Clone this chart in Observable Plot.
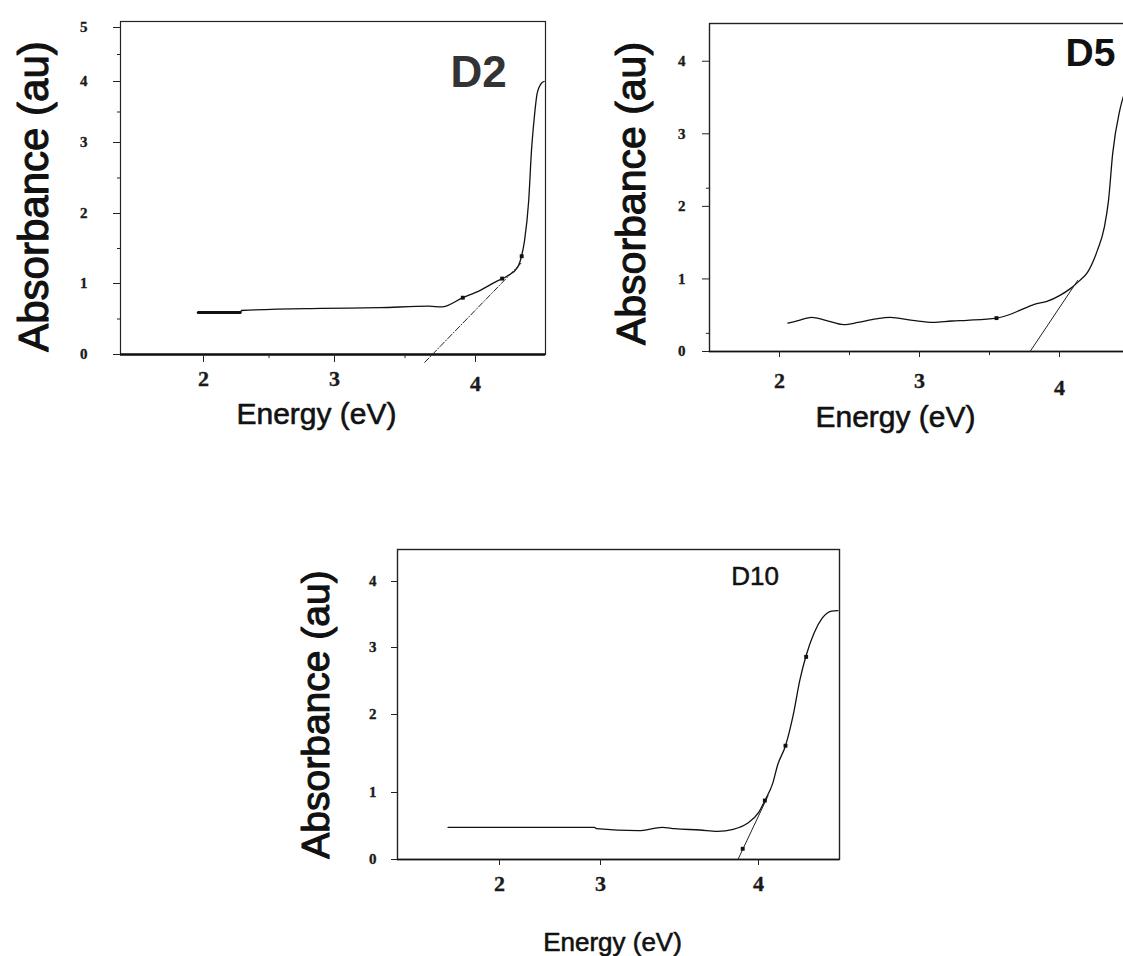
<!DOCTYPE html>
<html>
<head>
<meta charset="utf-8">
<script src="https://cdn.jsdelivr.net/npm/d3@7"></script>
<script src="https://cdn.jsdelivr.net/npm/@observablehq/plot@0.6"></script>
<style>
html, body { margin: 0; padding: 0; background: #fff; width: 1123px; height: 956px; overflow: hidden; }
#page { position: relative; width: 1123px; height: 956px; overflow: hidden; }
.panel { position: absolute; }
</style>
</head>
<body>
<div id="page"></div>
<script>
// ---------- D2 ----------
const d2Energy = [1.96, 2.28, 2.29, 2.90, 3.32, 3.67, 3.76, 3.91, 4.03, 4.14, 4.23, 4.30, 4.33, 4.35, 4.38, 4.40, 4.42, 4.44, 4.47, 4.49];
const d2Abs    = [0.59, 0.59, 0.62, 0.65, 0.66, 0.68, 0.67, 0.80, 0.90, 1.02, 1.11, 1.23, 1.40, 1.61, 2.18, 2.89, 3.41, 3.80, 3.97, 4.00];
const d2TangentE = [3.64, 4.33];
const d2TangentA = [-0.11, 1.30];
const d2MarkE = [3.91, 4.19, 4.33];
const d2MarkA = [0.80, 1.07, 1.39];
const d2XTicks = [2, 3, 4];
const d2XMinor = [2.5, 3.5];
const d2YTicks = [0, 1, 2, 3, 4, 5];
const d2YMinor = [0.5, 1.5, 2.5, 3.5, 4.5];

// ---------- D5 ----------
const d5Energy = [2.06, 2.14, 2.23, 2.33, 2.46, 2.56, 2.69, 2.79, 2.95, 3.10, 3.23, 3.34, 3.55, 3.66, 3.72, 3.82, 3.91, 4.00, 4.08, 4.14, 4.20, 4.27, 4.32, 4.35, 4.38, 4.43, 4.47];
const d5Abs    = [0.39, 0.43, 0.47, 0.43, 0.37, 0.40, 0.45, 0.47, 0.43, 0.40, 0.42, 0.43, 0.46, 0.52, 0.57, 0.65, 0.69, 0.77, 0.87, 0.97, 1.09, 1.39, 1.71, 2.08, 2.73, 3.32, 3.60];
const d5TangentE = [3.79, 4.13];
const d5TangentA = [0.00, 0.98];
const d5MarkE = [3.55];
const d5MarkA = [0.46];
const d5XTicks = [2, 3, 4];
const d5XMinor = [2.5, 3.5];
const d5YTicks = [0, 1, 2, 3, 4];
const d5YMinor = [0.25, 2.25];

// ---------- D10 ----------
const d10Energy = [1.49, 2.94, 2.96, 3.24, 3.39, 3.47, 3.63, 3.74, 3.84, 3.93, 4.00, 4.04, 4.09, 4.12, 4.17, 4.22, 4.26, 4.30, 4.35, 4.40, 4.46, 4.50];
const d10Abs    = [0.48, 0.48, 0.46, 0.43, 0.48, 0.46, 0.44, 0.42, 0.45, 0.54, 0.70, 0.88, 1.12, 1.35, 1.60, 2.01, 2.51, 2.88, 3.22, 3.44, 3.55, 3.56];
const d10TangentE = [3.87, 4.06];
const d10TangentA = [0.00, 0.95];
const d10MarkE = [3.90, 4.04, 4.17, 4.30];
const d10MarkA = [0.16, 0.88, 1.60, 2.86];
const d10XTicks = [2, 3, 4];
const d10XMinor = [];
const d10YTicks = [0, 1, 2, 3, 4];
const d10YMinor = [];

const sans = "'Liberation Sans', Arial, Helvetica, sans-serif";
const serif = "'Liberation Serif', 'Times New Roman', serif";

function buildPanel(cfg) {
  const curve = cfg.energy.map((e, i) => ({e, a: cfg.abs[i]}));
  const thick = curve.filter(d => d.e <= (cfg.thickUntil ?? -1));
  const tangent = cfg.tanE.map((e, i) => ({e, a: cfg.tanA[i]}));
  const pts = cfg.markE.map((e, i) => ({e, a: cfg.markA[i]}));
  const lastX = cfg.xTicks[cfg.xTicks.length - 1];
  const tickText = {fontFamily: serif, fontWeight: "bold", fill: "#1a1a1a", stroke: "#1a1a1a", strokeWidth: 0.35};
  const marks = [
    Plot.frame({stroke: "#222", strokeWidth: cfg.frameWidth}),
    Plot.ruleY([0], {stroke: "#111", strokeWidth: cfg.baseWidth}),
    // tick marks
    Plot.axisX({ticks: cfg.xTicks, tickSize: cfg.xTickSize, tickFormat: () => "", label: null, stroke: "#222"}),
    Plot.axisY({ticks: cfg.yTicks, tickSize: cfg.yTickSize, tickFormat: () => "", label: null, stroke: "#222"}),
    // tick labels (the last x label sits a little lower in the original)
    Plot.text(cfg.xTicks.filter(d => d !== lastX), {x: d => d, text: d => String(d), frameAnchor: "bottom", textAnchor: "middle", lineAnchor: "middle", dy: cfg.xLabelOffset, fontSize: cfg.xFont, ...tickText}),
    Plot.text([lastX], {x: d => d, text: d => String(d), frameAnchor: "bottom", textAnchor: "middle", lineAnchor: "middle", dy: cfg.xLabelOffset + cfg.lastDrop, fontSize: cfg.xFont, ...tickText}),
    Plot.text(cfg.yTicks, {y: d => d, text: d => String(d), frameAnchor: "left", textAnchor: "end", lineAnchor: "middle", dx: cfg.yLabelOffset, fontSize: cfg.yFont, ...tickText}),
    Plot.line(curve, {x: "e", y: "a", curve: "monotone-x", stroke: "#111", strokeWidth: 1.3}),
    Plot.line(tangent, {x: "e", y: "a", stroke: "#222", strokeWidth: 1, strokeDasharray: cfg.tanDash}),
    Plot.dot(pts, {x: "e", y: "a", symbol: "square", r: 2.2, fill: "#111"}),
    Plot.text([cfg.yLabel], {text: d => d, frameAnchor: "left", textAnchor: "middle", lineAnchor: "middle", rotate: -90, dx: cfg.yLabelDx, dy: cfg.yLabelDy, fontSize: cfg.yLabelSize, fontFamily: sans, fontWeight: "normal", fill: "#111", stroke: "#111", strokeWidth: 1.1}),
    Plot.text([cfg.xLabel], {text: d => d, frameAnchor: "bottom", textAnchor: "middle", lineAnchor: "middle", dx: cfg.xLabelDx, dy: cfg.xLabelDy, fontSize: cfg.xLabelSize, fontFamily: sans, fontWeight: "normal", fill: "#111", stroke: "#111", strokeWidth: 0.6}),
    Plot.text([cfg.name], {text: d => d, frameAnchor: "top-left", textAnchor: "middle", lineAnchor: "middle", dx: cfg.nameDx, dy: cfg.nameDy, fontSize: cfg.nameSize, fontFamily: sans, fontWeight: cfg.nameWeight, fill: cfg.nameColor, stroke: cfg.nameColor, strokeWidth: cfg.nameStroke})
  ];
  if (thick.length > 1) marks.push(Plot.line(thick, {x: "e", y: "a", stroke: "#111", strokeWidth: 3}));
  if (cfg.xMinor.length) marks.push(Plot.axisX({ticks: cfg.xMinor, tickSize: 4, tickFormat: () => "", label: null, stroke: "#222"}));
  if (cfg.yMinor.length) marks.push(Plot.axisY({ticks: cfg.yMinor, tickSize: 3, tickFormat: () => "", label: null, stroke: "#222"}));

  const chart = Plot.plot({
    width: cfg.width,
    height: cfg.height,
    marginLeft: cfg.ml, marginRight: cfg.mr, marginTop: cfg.mt, marginBottom: cfg.mb,
    x: {type: "linear", domain: cfg.xDomain, range: cfg.xRange, label: null},
    y: {type: "linear", domain: cfg.yDomain, range: cfg.yRange, label: null},
    style: {fontFamily: serif, color: "#222", background: "transparent", overflow: "visible", maxWidth: "none"},
    marks
  });
  const div = document.createElement("div");
  div.className = "panel";
  div.style.left = cfg.left + "px";
  div.style.top = cfg.top + "px";
  div.appendChild(chart);
  document.getElementById("page").appendChild(div);
}

// D2: svg at page (0,0)
buildPanel({
  name: "D2", left: 0, top: 0, width: 560, height: 450, ml: 120, mr: 15, mt: 21, mb: 96,
  xDomain: [1.366, 2, 3, 4, 4.5], xRange: [120, 203, 334, 475, 545],
  yDomain: [0, 1, 2, 3, 4, 5, 5.11], yRange: [354, 283, 213, 142, 81, 27, 21],
  energy: d2Energy, abs: d2Abs, thickUntil: 2.28, tanE: d2TangentE, tanA: d2TangentA, tanDash: "6,2,1,2",
  markE: d2MarkE, markA: d2MarkA,
  xTicks: d2XTicks, xMinor: d2XMinor, yTicks: d2YTicks, yMinor: d2YMinor,
  xTickSize: 8, xLabelOffset: 24, lastDrop: 5, xFont: 22, yTickSize: 7, yLabelOffset: -33, yFont: 15,
  frameWidth: 1.2, baseWidth: 2.6,
  yLabel: "Absorbance (au)", yLabelDx: -86, yLabelDy: 8.5, yLabelSize: 42,
  xLabel: "Energy (eV)", xLabelDx: -16.5, xLabelDy: 60, xLabelSize: 30,
  nameDx: 358, nameDy: 51, nameSize: 44, nameWeight: "bold", nameColor: "#333", nameStroke: 0
});

// D5: svg at page (560,0)
buildPanel({
  name: "D5", left: 560, top: 0, width: 580, height: 460, ml: 149, mr: 11, mt: 23, mb: 109,
  xDomain: [1.5, 4.5], xRange: [149, 569],
  yDomain: [0, 4.52], yRange: [351, 23],
  energy: d5Energy, abs: d5Abs, tanE: d5TangentE, tanA: d5TangentA, tanDash: null,
  markE: d5MarkE, markA: d5MarkA,
  xTicks: d5XTicks, xMinor: d5XMinor, yTicks: d5YTicks, yMinor: d5YMinor,
  xTickSize: 6, xLabelOffset: 29, lastDrop: 7, xFont: 22, yTickSize: 7, yLabelOffset: -24, yFont: 15,
  frameWidth: 1.4, baseWidth: 1.6,
  yLabel: "Absorbance (au)", yLabelDx: -78, yLabelDy: 6, yLabelSize: 41,
  xLabel: "Energy (eV)", xLabelDx: -24, xLabelDy: 66, xLabelSize: 30,
  nameDx: 381, nameDy: 30, nameSize: 39, nameWeight: "bold", nameColor: "#111", nameStroke: 0
});

// D10: svg at page (290,500)
buildPanel({
  name: "D10", left: 290, top: 500, width: 570, height: 456, ml: 107, mr: 21, mt: 49, mb: 97,
  xDomain: [0.99, 2, 3, 4, 4.51], xRange: [107, 209, 310, 468, 549],
  yDomain: [0, 1, 2, 3, 4, 4.485], yRange: [359, 292, 214, 147, 81, 49],
  energy: d10Energy, abs: d10Abs, tanE: d10TangentE, tanA: d10TangentA, tanDash: null,
  markE: d10MarkE, markA: d10MarkA,
  xTicks: d10XTicks, xMinor: d10XMinor, yTicks: d10YTicks, yMinor: d10YMinor,
  xTickSize: 6, xLabelOffset: 24, lastDrop: 0, xFont: 22, yTickSize: 6, yLabelOffset: -21, yFont: 15,
  frameWidth: 1.4, baseWidth: 1.6,
  yLabel: "Absorbance (au)", yLabelDx: -81, yLabelDy: 10, yLabelSize: 39,
  xLabel: "Energy (eV)", xLabelDx: -6, xLabelDy: 83, xLabelSize: 26,
  nameDx: 357.5, nameDy: 27, nameSize: 26, nameWeight: "normal", nameColor: "#111", nameStroke: 0.5
});
</script>
</body>
</html>
